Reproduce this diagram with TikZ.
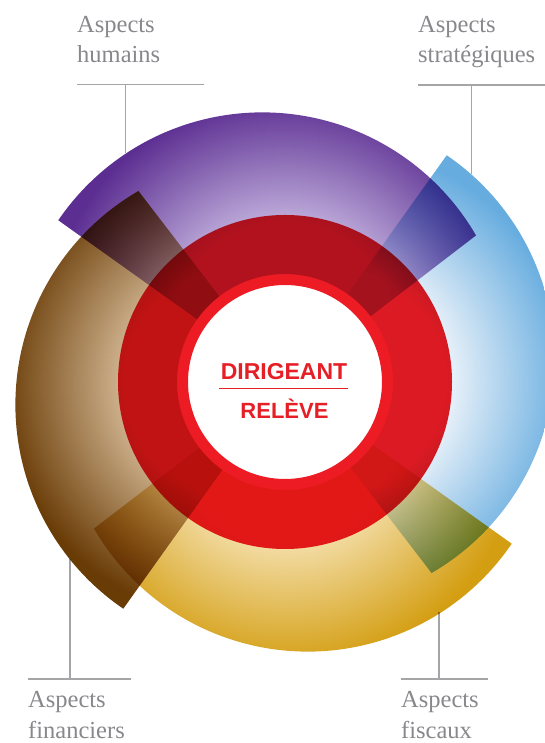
\documentclass[tikz,border=0pt]{standalone}
\usepackage{fontspec}
\setmainfont{Liberation Serif}
\newfontfamily\helv{Liberation Sans}
\definecolor{labelgray}{RGB}{136,136,140}
\definecolor{linegray}{RGB}{165,165,168}
\definecolor{ringred}{RGB}{237,28,36}
\definecolor{textred}{RGB}{230,30,38}
\pgfdeclareradialshading{shP}{\pgfpoint{0bp}{0bp}}{rgb(0bp)=(0.75,0.68,0.86); rgb(110bp)=(0.75,0.68,0.86); rgb(235bp)=(0.36,0.18,0.57); rgb(300bp)=(0.36,0.18,0.57)}
\pgfdeclareradialshading{shB}{\pgfpoint{0bp}{0bp}}{rgb(0bp)=(0.93,0.955,0.98); rgb(110bp)=(0.93,0.955,0.98); rgb(235bp)=(0.40,0.675,0.875); rgb(300bp)=(0.40,0.675,0.875)}
\pgfdeclareradialshading{shG}{\pgfpoint{0bp}{0bp}}{rgb(0bp)=(0.955,0.87,0.66); rgb(110bp)=(0.955,0.87,0.66); rgb(235bp)=(0.83,0.62,0.07); rgb(300bp)=(0.83,0.62,0.07)}
\pgfdeclareradialshading{shN}{\pgfpoint{0bp}{0bp}}{rgb(0bp)=(0.82,0.71,0.57); rgb(110bp)=(0.82,0.71,0.57); rgb(235bp)=(0.41,0.23,0.02); rgb(300bp)=(0.41,0.23,0.02)}
\begin{document}
\begin{tikzpicture}[x=1pt,y=1pt,
  lbl/.style={font=\fontsize{24.5}{29}\selectfont, text=labelgray, inner sep=0pt, anchor=base west},
  leader/.style={draw=linegray, line width=1.2pt},
  ctext/.style={font=\helv\bfseries\fontsize{23}{27}\selectfont, text=textred, inner sep=0pt, anchor=base}]
\useasboundingbox (0,0) rectangle (545,743);
\clip (0,0) rectangle (545,743);
\coordinate (C) at (285,361);
% leader lines
\coordinate (hA) at (77,658.7);  \coordinate (hB) at (204,658.7);
\coordinate (hT) at (125.7,658.7); \coordinate (hE) at (125.7,589.5);
\coordinate (sA) at (418,658);  \coordinate (sB) at (545,658);
\coordinate (sT) at (471.7,658); \coordinate (sE) at (471.7,568.5);
\coordinate (fA) at (28,64);  \coordinate (fB) at (131,64);
\coordinate (fT) at (70,64); \coordinate (fE) at (70,183.5);
\coordinate (xA) at (400.7,64);  \coordinate (xB) at (488,64);
\coordinate (xT) at (439,64); \coordinate (xE) at (439,131);
\draw[leader] (hA) -- (hB); \draw[leader] (hT) -- (hE);
\draw[leader] (sA) -- (sB); \draw[leader] (sT) -- (sE);
\draw[leader] (fA) -- (fB); \draw[leader] (fT) -- (fE);
\draw[leader] (xA) -- (xB); \draw[leader] (xT) -- (xE);
% four sectors
\foreach \m/\sh in {91/shP,1/shB,271/shG,181/shN}{
  \pgfmathsetmacro\aA{\m-53.5}
  \pgfmathsetmacro\aB{\m+53.5}
  \pgfmathsetmacro\ph{\m+44}
  \begin{scope}[shift={(C)}, blend mode=multiply]
    \clip (\aA:108) -- plot[domain=\aA:\aB, samples=90, variable=\t] (\t:{10*(3.2*cos(\t-\ph)+sqrt(610.09-10.24*sin(\t-\ph)*sin(\t-\ph)))}) -- (\aB:108) arc[start angle=\aB, end angle=\aA, radius=108] -- cycle;
    \node[inner sep=0pt, outer sep=0pt] (sec\m) at (\m:50) {\pgfuseshading{\sh}};
  \end{scope}
}
% red ring
\begin{scope}[blend mode=multiply]
  \fill[ringred, even odd rule] (C) circle (167) (C) circle (97);
\end{scope}
% centre text
\node[ctext] (dir) at (284,363) {DIRIGEANT};
\node[ctext, font=\helv\bfseries\fontsize{22}{26}\selectfont] (rel) at (284.5,324.7) {RELÈVE};
\coordinate (sepL) at (219,354); \coordinate (sepR) at (347.7,354);
\draw[textred, line width=1pt] (sepL) -- (sepR);
% labels
\node[lbl] (h1) at (77,710) {Aspects};
\node[lbl] (h2) at (77,680) {humains};
\node[lbl] (s1) at (418,710) {Aspects};
\node[lbl] (s2) at (418,680) {stratégiques};
\node[lbl] (f1) at (28,35) {Aspects};
\node[lbl] (f2) at (28,5) {financiers};
\node[lbl] (x1) at (401,35) {Aspects};
\node[lbl] (x2) at (401,5) {fiscaux};
\end{tikzpicture}
\end{document}
